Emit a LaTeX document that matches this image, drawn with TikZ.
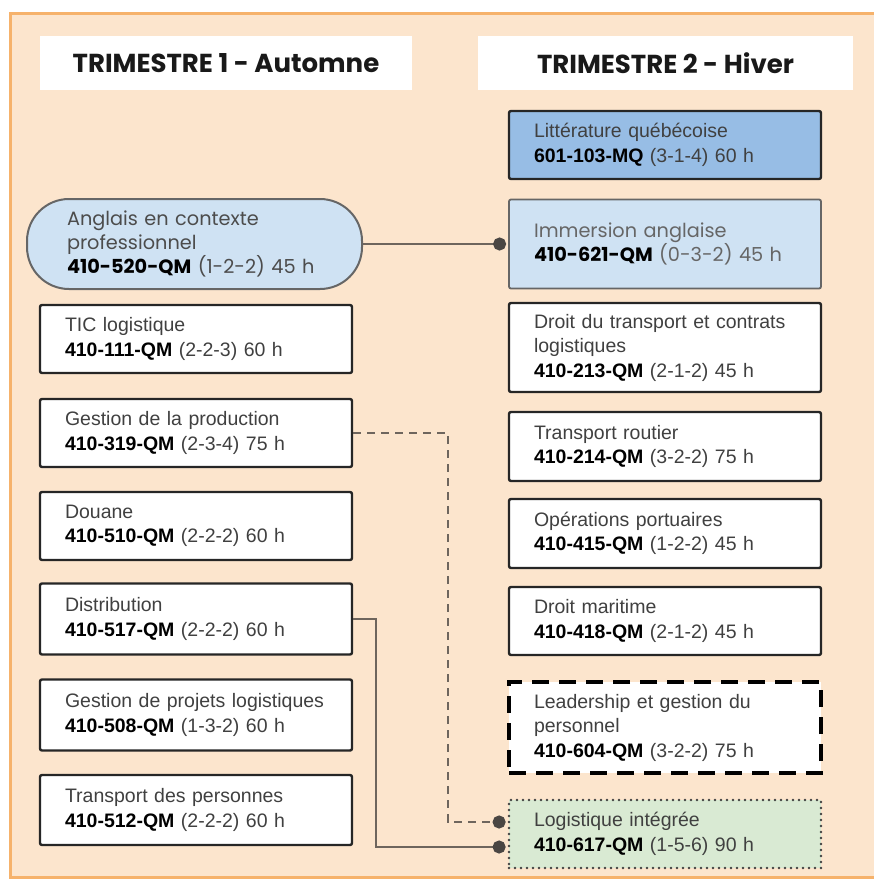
\documentclass[tikz,border=0pt]{standalone}
\usepackage{fontspec}
\setmainfont{Liberation Sans}
\newfontfamily\popfont{Poppins}
\usepackage{tikz}
\usetikzlibrary{arrows.meta}

\definecolor{peach}{HTML}{FCE5CD}
\definecolor{framec}{HTML}{F6B26B}
\definecolor{litblue}{HTML}{97BDE5}
\definecolor{paleblue}{HTML}{CFE2F3}
\definecolor{palegreen}{HTML}{D9EAD3}
\definecolor{linkc}{HTML}{6E655D}
\definecolor{dotc}{HTML}{4A4643}
\definecolor{txtgrey}{HTML}{404040}

\newcommand{\coursecode}[1]{\textbf{\textcolor{black}{#1}}}

\tikzset{
  course/.style={draw=black!85, line width=2.4pt, fill=white, rounded corners=2pt,
    minimum width=312pt, minimum height=68pt, text width=262pt, inner xsep=25pt,
    align=left, text=txtgrey, font=\fontsize{19.5}{24.5}\selectfont},
  popcourse/.style={course, font=\popfont\fontsize{19.3}{24}\selectfont},
  header/.style={fill=white, minimum height=54pt,
    font=\popfont\bfseries\fontsize{26}{30}\selectfont, text=black!90},
  link/.style={draw=linkc, line width=2.6pt, -{Circle[length=13pt,width=13pt,color=dotc]}},
}

\begin{document}
\begin{tikzpicture}[x=1pt,y=-1pt]
  \useasboundingbox (0,0) rectangle (874,884);
  \fill[white] (0,0) rectangle (874,884);
  \draw[framec, line width=3pt, fill=peach] (10,13) rectangle (890,877);

  % headers
  \draw (226,63) node[header, minimum width=372pt] (t1) {TRIMESTRE 1 - Automne};
  \draw (665.5,63) node[header, minimum width=375pt] (t2) {TRIMESTRE 2 - Hiver};

  % trimestre 1
  \draw (194.5,244) node[popcourse, minimum width=335pt, minimum height=90pt, text width=255pt,
    inner xsep=40pt, rounded corners=42pt, fill=paleblue, draw=black!60, line width=2pt,
    text=black!70] (anglais)
    {Anglais en contexte\\professionnel\\\coursecode{410-520-QM} (1-2-2) 45 h};
  \draw (196,339) node[course] (tic) {TIC logistique\\\coursecode{410-111-QM} (2-2-3) 60 h};
  \draw (196,433) node[course] (prod) {Gestion de la production\\\coursecode{410-319-QM} (2-3-4) 75 h};
  \draw (196,526) node[course] (douane) {Douane\\\coursecode{410-510-QM} (2-2-2) 60 h};
  \draw (196,619) node[course, minimum height=71pt] (distrib) {Distribution\\\coursecode{410-517-QM} (2-2-2) 60 h};
  \draw (196,715) node[course, minimum height=71pt] (projets) {Gestion de projets logistiques\\\coursecode{410-508-QM} (1-3-2) 60 h};
  \draw (196,810) node[course, minimum height=70pt] (personnes) {Transport des personnes\\\coursecode{410-512-QM} (2-2-2) 60 h};

  % trimestre 2
  \draw (665,145) node[course, fill=litblue] (litt) {Littérature québécoise\\\coursecode{601-103-MQ} (3-1-4) 60 h};
  \draw (665,244) node[popcourse, minimum height=89pt, fill=paleblue, draw=black!60,
    line width=1.8pt, text=black!60] (immersion)
    {Immersion anglaise\\\coursecode{410-621-QM} (0-3-2) 45 h};
  \draw (665,347.5) node[course, minimum height=89pt] (droit) {Droit du transport et contrats\\logistiques\\\coursecode{410-213-QM} (2-1-2) 45 h};
  \draw (665,446.5) node[course, minimum height=69pt] (routier) {Transport routier\\\coursecode{410-214-QM} (3-2-2) 75 h};
  \draw (665,533.5) node[course, minimum height=69pt] (portuaires) {Opérations portuaires\\\coursecode{410-415-QM} (1-2-2) 45 h};
  \draw (665,621) node[course] (maritime) {Droit maritime\\\coursecode{410-418-QM} (2-1-2) 45 h};
  \draw (665,727.5) node[course, minimum height=91pt, draw=black, line width=4.5pt,
    rounded corners=0pt, dash pattern=on 17pt off 10pt] (leadership)
    {Leadership et gestion du\\personnel\\\coursecode{410-604-QM} (3-2-2) 75 h};
  \draw (665,834) node[course, fill=palegreen, draw=black!75, line width=2.8pt, line cap=round,
    rounded corners=0pt, dash pattern=on 0pt off 6pt] (logi)
    {Logistique intégrée\\\coursecode{410-617-QM} (1-5-6) 90 h};

  % liens
  \coordinate (prodturn) at (448,822);
  \coordinate (distturn) at (376,847);
  \draw[link] (anglais.east) -- ([xshift=-2pt]immersion.west);
  \draw[link, dash pattern=on 8pt off 6pt] (prod.east) -| (prodturn) -- ([xshift=-2pt,yshift=12pt]logi.west);
  \draw[link] (distrib.east) -| (distturn) -- ([xshift=-2pt,yshift=-13pt]logi.west);
\end{tikzpicture}
\end{document}
